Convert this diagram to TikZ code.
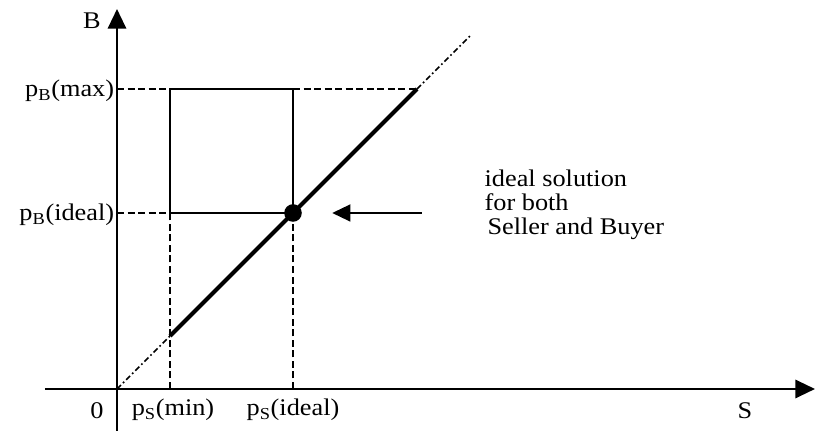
\documentclass[tikz,border=0pt]{standalone}
\usepackage{fontspec}
\setmainfont[FakeStretch=1.1]{Liberation Serif}
\usetikzlibrary{arrows.meta,positioning}

\begin{document}
\begin{tikzpicture}[
  >=Triangle,
  ax/.style = {line width=1.7pt, -{Triangle[length=14pt,width=13pt]}},
  guide/.style = {line width=1.3pt, dash pattern=on 5pt off 2.5pt},
  box/.style = {line width=1.3pt},
  pareto/.style = {line width=3pt},
  ext/.style = {line width=1.2pt, dash pattern=on 4pt off 2pt on 1.2pt off 2pt},
  lbl/.style = {font=\fontsize{17}{17}\selectfont, inner sep=1pt},
  hint/.style = {line width=1.6pt, -{Triangle[length=13pt,width=12pt]}}
]
\useasboundingbox (-2.925,-1.05) rectangle (17.475,9.725);

% axes
\coordinate (O)    at (0,0);
\coordinate (xbeg) at (-1.8,0);
\coordinate (xend) at (17.45,0);
\coordinate (ybeg) at (0,-1.05);
\coordinate (yend) at (0,9.5);
\draw[ax] (xbeg) -- (xend);
\draw[ax] (ybeg) -- (yend);

% price levels
\coordinate (Smin) at (1.325,0);
\coordinate (Sid)  at (4.4,0);
\coordinate (Bid)  at (0,4.4);
\coordinate (Bmax) at (0,7.5);
\coordinate (A) at (1.325,1.325);   % p_S(min) on diagonal
\coordinate (P) at (4.4,4.4);       % ideal point
\coordinate (C) at (1.325,7.5);
\coordinate (D) at (4.4,7.5);
\coordinate (E) at (1.325,4.4);
\coordinate (M) at (7.5,7.5);       % p_B(max) on diagonal
\coordinate (T) at (8.85,8.85);

% dashed guides
\draw[guide] (Bmax) -- (C);
\draw[guide] (D) -- (M);
\draw[guide] (Bid) -- (E);
\draw[guide] (Smin) -- (E);
\draw[guide] (Sid) -- (P);

% solid frame
\draw[box] (E) -- (C) -- (D) -- (P) -- (E);

% diagonal
\draw[ext] (O) -- (A);
\draw[pareto] (A) -- (M);
\draw[ext] (M) -- (T);
\fill (P) circle (0.22);

% labels
\node[lbl] (B)    at (-0.625,9.2)  {B};
\node[lbl] (zero) at (-0.5,-0.53)  {0};
\node[lbl] (S)    at (15.7,-0.55)  {S};
\node[lbl] (psmin) at (1.4,-0.53)  {p\textsubscript{S}(min)};
\node[lbl] (psid)  at (4.4,-0.53)  {p\textsubscript{S}(ideal)};
\node[lbl, anchor=east] (pbmax) at (-0.03,7.45) {p\textsubscript{B}(max)};
\node[lbl, anchor=east] (pbid)  at (-0.03,4.35) {p\textsubscript{B}(ideal)};

% note
\node[lbl, align=left, anchor=west] (note) at (9.15,4.6)
  {ideal solution\\for both\\\hspace{2pt}Seller and Buyer};
\coordinate (tail) at (7.62,4.4);
\coordinate (tip)  at (5.38,4.4);
\draw[hint] (tail) -- (tip);

\end{tikzpicture}
\end{document}
